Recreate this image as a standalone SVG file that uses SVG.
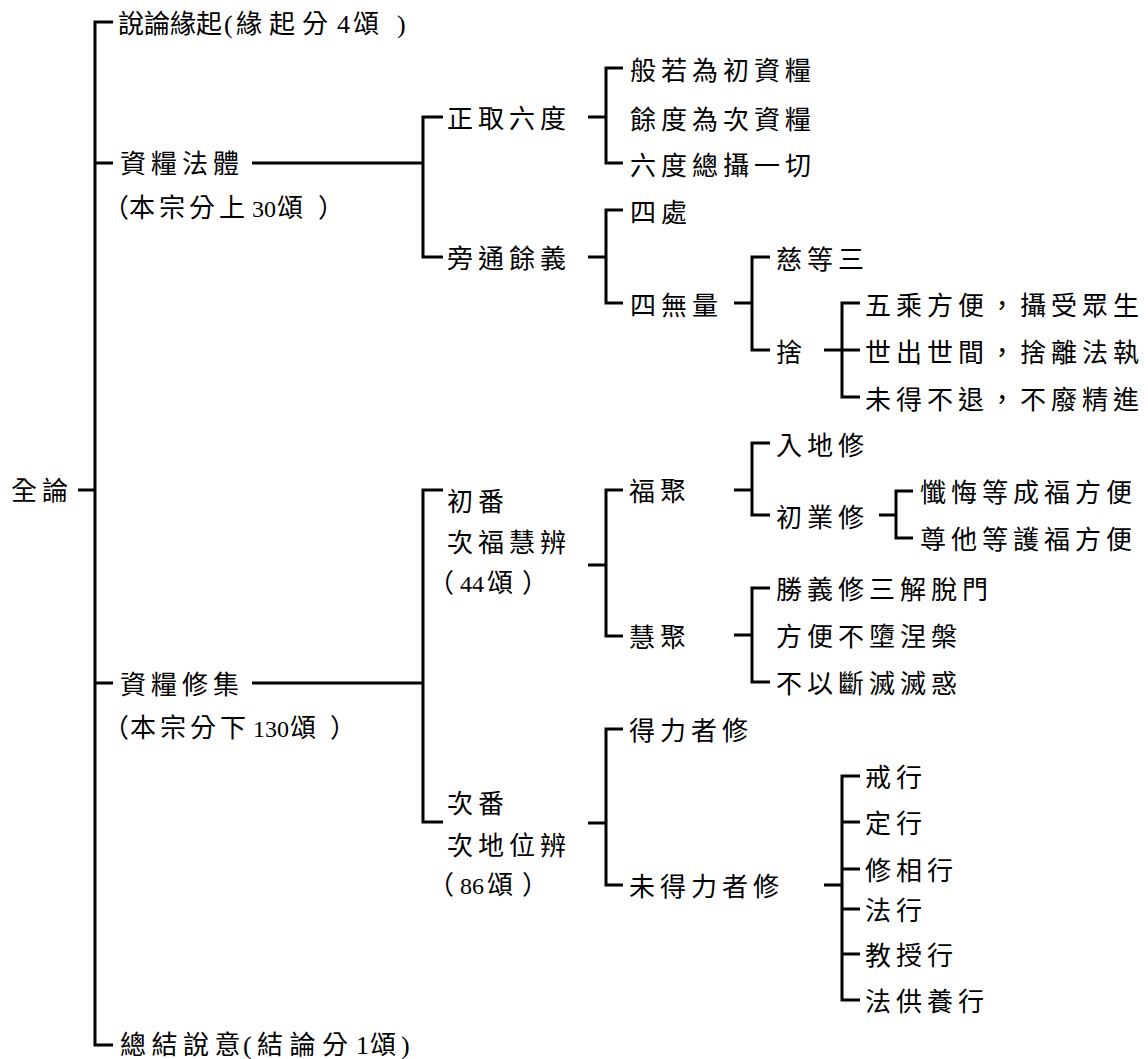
<svg xmlns="http://www.w3.org/2000/svg" width="1148" height="1059" viewBox="0 0 1148 1059">
<style>
  text { font-family: "Liberation Serif", "Noto Sans CJK TC", "Noto Sans CJK SC", serif; font-size: 26px; fill: #000; letter-spacing: 5px; }
  .tight { letter-spacing: 0px; }
  .num { font-size: 24px; }
  .c { fill: none; stroke: #000; stroke-width: 3; stroke-linejoin: miter; stroke-linecap: butt; }
</style>
<rect width="1148" height="1059" fill="#fff"/>
<g id="connectors">
  <path class="c" d="M113,22 H95 V1045 H113"/>
  <path class="c" d="M95,163 H113 M95,683 H113 M78,490 H95"/>
  <path class="c" d="M252,163 H423"/>
  <path class="c" d="M443,117 H423 V257 H443"/>
  <path class="c" d="M252,683 H423"/>
  <path class="c" d="M443,490 H423 V822 H443"/>
  <path class="c" d="M588,117 H606"/>
  <path class="c" d="M623,68 H606 V163 H623"/>
  <path class="c" d="M588,257 H606"/>
  <path class="c" d="M623,210 H606 V303 H623"/>
  <path class="c" d="M734,303 H752"/>
  <path class="c" d="M770,257 H752 V350 H770"/>
  <path class="c" d="M824,350 H860"/>
  <path class="c" d="M860,303 H842 V397 H860"/>
  <path class="c" d="M588,565 H606"/>
  <path class="c" d="M623,490 H606 V636 H623"/>
  <path class="c" d="M734,490 H752"/>
  <path class="c" d="M770,443 H752 V515 H770"/>
  <path class="c" d="M879,515 H896"/>
  <path class="c" d="M913,491 H896 V538 H913"/>
  <path class="c" d="M734,635 H752"/>
  <path class="c" d="M770,588 H752 V682 H770"/>
  <path class="c" d="M588,823 H606"/>
  <path class="c" d="M623,729 H606 V885 H623"/>
  <path class="c" d="M824,885 H842"/>
  <path class="c" d="M860,776 H842 V1000 H860"/>
  <path class="c" d="M842,822 H860 M842,869 H860 M842,909 H860 M842,954 H860"/>
</g>
<g id="n-quanlun"><text x="11" y="500">全論</text></g>
<g id="n-yuanqi"><text y="33" class="tight" x="118 144 170 196 224 236 269 302 329 337 353 397">說論緣起(緣起分 4頌)</text></g>
<g id="n-ziliang-fati">
  <text x="120" y="173">資糧法體</text>
  <text y="217" class="tight"><tspan x="103 129 159 189 219">（本宗分上 </tspan><tspan x="252" class="num">30</tspan><tspan x="277 318">頌）</tspan></text>
</g>
<g id="n-zhengqu"><text x="447" y="128">正取六度</text></g>
<g id="n-bore"><text x="630" y="80">般若為初資糧</text></g>
<g id="n-yudu"><text x="630" y="129">餘度為次資糧</text></g>
<g id="n-liudu"><text x="630" y="175">六度總攝一切</text></g>
<g id="n-pangtong"><text x="447" y="268">旁通餘義</text></g>
<g id="n-sichu"><text x="630" y="222">四處</text></g>
<g id="n-siwuliang"><text x="630" y="315">四無量</text></g>
<g id="n-ci"><text x="776" y="269">慈等三</text></g>
<g id="n-she"><text x="776" y="362">捨</text></g>
<g id="n-wucheng"><text x="865" y="315">五乘方便，攝受眾生</text></g>
<g id="n-shichu"><text x="865" y="362">世出世間，捨離法執</text></g>
<g id="n-weide"><text x="865" y="409">未得不退，不廢精進</text></g>
<g id="n-ziliang-xiuji">
  <text x="120" y="694">資糧修集</text>
  <text y="737" class="tight"><tspan x="103 130 160 190 220">（本宗分下 </tspan><tspan x="253" class="num">130</tspan><tspan x="290 330">頌）</tspan></text>
</g>
<g id="n-chufan">
  <text x="447" y="511">初番</text>
  <text x="447" y="552">次福慧辨</text>
  <text y="592" class="tight"><tspan x="428">（</tspan><tspan x="460" class="num">44</tspan><tspan x="487 522">頌）</tspan></text>
</g>
<g id="n-fuju"><text x="629" y="501">福聚</text></g>
<g id="n-rudi"><text x="776" y="455">入地修</text></g>
<g id="n-chuye"><text x="776" y="527">初業修</text></g>
<g id="n-chanhui"><text x="920" y="502">懺悔等成福方便</text></g>
<g id="n-zunta"><text x="920" y="549">尊他等護福方便</text></g>
<g id="n-huiju"><text x="629" y="647">慧聚</text></g>
<g id="n-shengyi"><text x="776" y="599">勝義修三解脫門</text></g>
<g id="n-fangbian"><text x="776" y="646">方便不墮涅槃</text></g>
<g id="n-buyi"><text x="776" y="693">不以斷滅滅惑</text></g>
<g id="n-cifan">
  <text x="447" y="813">次番</text>
  <text x="447" y="855">次地位辨</text>
  <text y="894" class="tight"><tspan x="428">（</tspan><tspan x="460" class="num">86</tspan><tspan x="487 522">頌）</tspan></text>
</g>
<g id="n-delizhe"><text x="629" y="740">得力者修</text></g>
<g id="n-weidelizhe"><text x="629" y="896">未得力者修</text></g>
<g id="n-jiexing"><text x="865" y="787">戒行</text></g>
<g id="n-dingxing"><text x="865" y="833">定行</text></g>
<g id="n-xiuxiang"><text x="865" y="880">修相行</text></g>
<g id="n-faxing"><text x="865" y="920">法行</text></g>
<g id="n-jiaoshou"><text x="865" y="965">教授行</text></g>
<g id="n-fagongyang"><text x="865" y="1011">法供養行</text></g>
<g id="n-zongjie"><text y="1054" class="tight" x="120 151.5 183 214.5 243 257 289.5 322 349 356 370 401">總結說意(結論分 1頌)</text></g>
</svg>
